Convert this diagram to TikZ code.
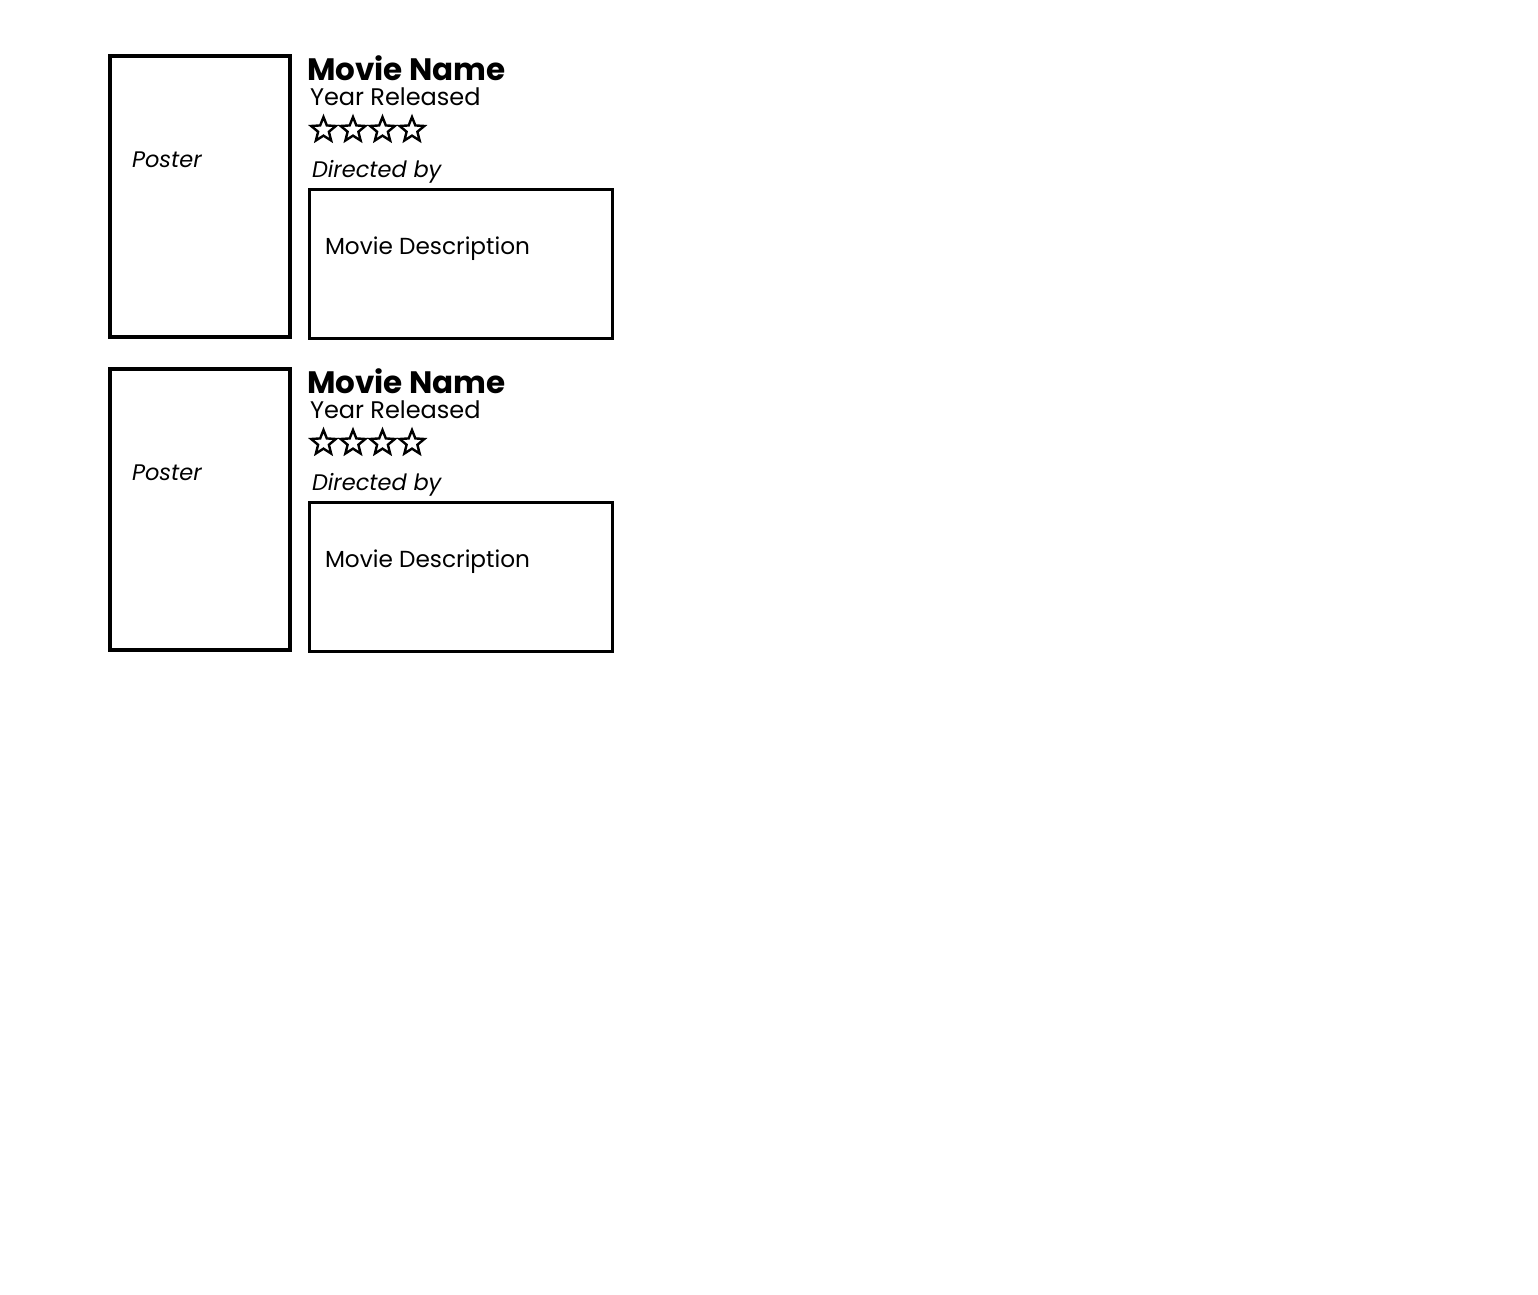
\documentclass[tikz,border=0pt]{standalone}
\usepackage{fontspec}
\usetikzlibrary{shapes.geometric}
\setmainfont{Poppins}
\begin{document}
\begin{tikzpicture}[x=1pt,y=-1pt,
  poster/.style={draw=black,line width=4pt},
  descbox/.style={draw=black,line width=2.5pt},
  starmark/.style={star,star points=5,star point ratio=2.3,minimum size=26pt,inner sep=0pt,draw=black,line width=2.4pt,line join=miter},
  lbl/.style={anchor=base west,inner sep=0pt,outer sep=0pt},
  titletext/.style={lbl,font=\fontsize{31}{31}\selectfont\bfseries},
  yeartext/.style={lbl,font=\fontsize{24}{24}\selectfont},
  italictext/.style={lbl,font=\fontsize{22.5}{22.5}\selectfont\itshape},
  desctext/.style={lbl,font=\fontsize{23.2}{23.2}\selectfont}]
\useasboundingbox (0,0) rectangle (1538,1294);
\foreach \i/\dy in {1/0,2/313}{
  \begin{scope}[yshift=-\dy pt]
  \draw[poster] (109.5,55.5) rectangle (290,337);
  \node[italictext] (poster\i) at (132,167) {Poster};
  \node[titletext] (name\i) at (307,80) {Movie Name};
  \node[yeartext] (year\i) at (310,105) {Year Released};
  \foreach \k/\sx in {1/323.5,2/353,3/382.5,4/412}{
    \node[starmark] (star\i\k) at (\sx,130) {};
  }
  \node[italictext] (dir\i) at (312,177) {Directed by};
  \draw[descbox] (309.5,189.5) rectangle (612.5,338.5);
  \node[desctext] (desc\i) at (325,254) {Movie Description};
  \end{scope}
}
\end{tikzpicture}
\end{document}
